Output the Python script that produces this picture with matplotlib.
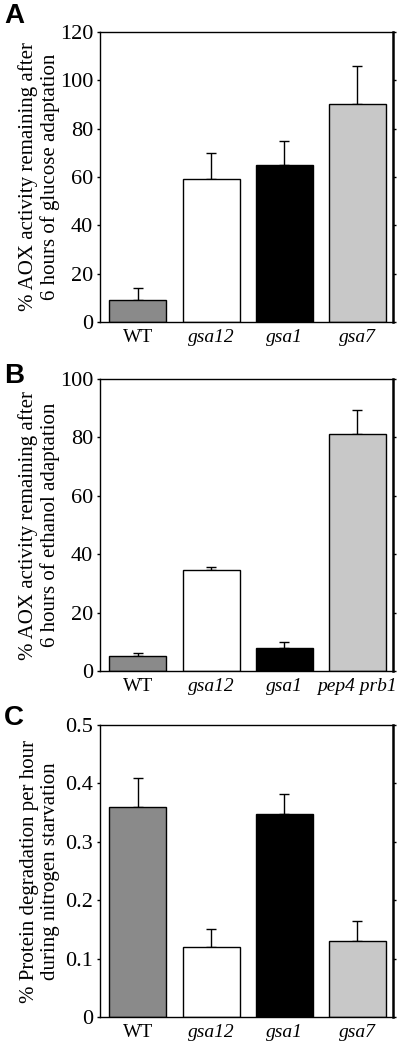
import numpy as np
import matplotlib.pyplot as plt

# panel A: glucose adaptation
a_labels = ["WT", "gsa12", "gsa1", "gsa7"]
a_values = [9, 59, 65, 90]
a_errors = [5, 11, 10, 16]

# panel B: ethanol adaptation
b_labels = ["WT", "gsa12", "gsa1", "pep4 prb1"]
b_values = [5, 34.5, 8, 81]
b_errors = [1, 1, 2, 8.5]

# panel C: protein degradation
c_labels = ["WT", "gsa12", "gsa1", "gsa7"]
c_values = [0.36, 0.12, 0.348, 0.13]
c_errors = [0.05, 0.03, 0.033, 0.035]

bar_colors = ["#8a8a8a", "#ffffff", "#000000", "#c8c8c8"]

plt.rcParams['font.family'] = ['Liberation Serif', 'DejaVu Serif']

fig = plt.figure(figsize=(4, 10.44), dpi=100)
W, H = 400, 1044

def add_axes(top, bottom):
    return fig.add_axes([100 / W, 1 - bottom / H, 293 / W, (bottom - top) / H])

panels = [
    (32, 322, a_labels, a_values, a_errors, (0, 120), np.arange(0, 121, 20), "A",
     "% AOX activity remaining after\n6 hours of glucose adaptation", 16),
    (379, 671, b_labels, b_values, b_errors, (0, 100), np.arange(0, 101, 20), "B",
     "% AOX activity remaining after\n6 hours of ethanol adaptation", 376),
    (725, 1017, c_labels, c_values, c_errors, (0, 0.5), [0, 0.1, 0.2, 0.3, 0.4, 0.5], "C",
     "% Protein degradation per hour\nduring nitrogen starvation", 718),
]

for top, bottom, labels, values, errors, ylim, ticks, letter, ylabel, ly in panels:
    ax = add_axes(top, bottom)
    x = np.arange(len(values))
    ax.bar(x, values, width=0.78, color=bar_colors, edgecolor="black", linewidth=1.0, zorder=2)
    ax.errorbar(x, values, yerr=[np.zeros(len(errors)), errors], fmt="none",
                ecolor="black", elinewidth=1.0, capsize=3.5, capthick=1.0, zorder=1)
    ax.set_xlim(-0.52, 3.49)
    ax.set_ylim(*ylim)
    ax.set_yticks(ticks)
    if ylim[1] < 1:
        ax.set_yticklabels(["0" if t == 0 else f"{t:.1f}" for t in ticks])
    ax.set_xticks(x)
    ax.set_xticklabels(labels)
    for i, t in enumerate(ax.get_xticklabels()):
        if i > 0:
            t.set_style("italic")
    ax.tick_params(axis="x", length=0, labelsize=14, pad=5)
    ax.tick_params(axis="y", direction="out", length=2, labelsize=16, pad=3,
                   right=True, width=1.0)
    for s in ax.spines.values():
        s.set_linewidth(1.0)
    ax.spines["right"].set_linewidth(1.8)
    ax.set_ylabel(ylabel, fontsize=15, linespacing=1.2)
    ax.yaxis.set_label_coords(-0.135, 0.5)
    fig.text(4 / W, 1 - ly / H, letter, fontsize=20, fontweight="bold",
             family="Liberation Sans", va="center", ha="left")

fig.savefig("out.png", dpi=100)
